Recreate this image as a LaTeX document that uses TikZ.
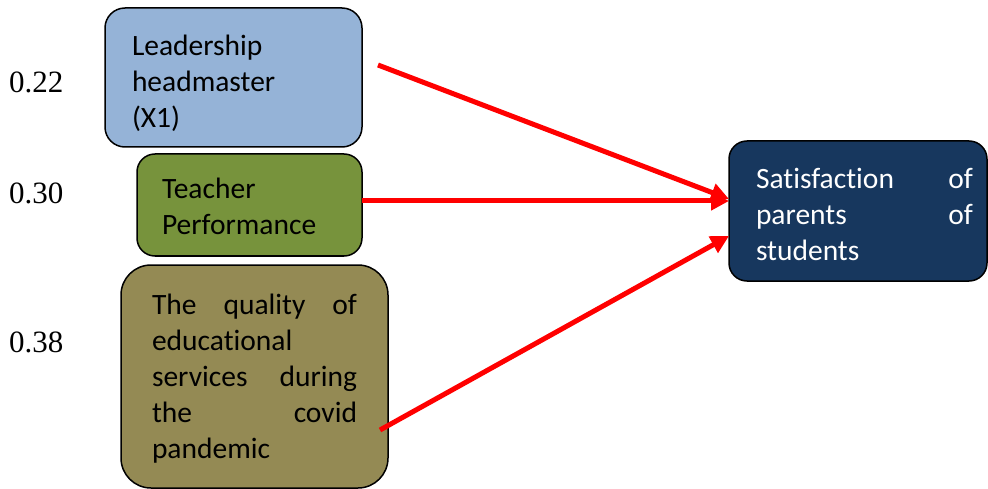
\documentclass[tikz,border=0pt]{standalone}
\usepackage{fontspec}
\setmainfont{Carlito}[Ligatures={NoCommon}]
\newfontfamily\numfont{Liberation Serif}
\usetikzlibrary{arrows.meta}
\definecolor{cLead}{HTML}{95B3D7}
\definecolor{cTeach}{HTML}{77933C}
\definecolor{cQual}{HTML}{948A54}
\definecolor{cSat}{HTML}{17375E}
\definecolor{cArrow}{HTML}{FF0000}
\tikzset{
  box/.style={draw=black, line width=1.5pt, inner sep=0pt, align=left,
    font=\fontsize{29.5}{36}\selectfont},
  numlabel/.style={anchor=west, inner sep=0pt, font=\numfont\fontsize{31}{36}\selectfont},
  link/.style={draw=cArrow, line width=5pt, -{Triangle[length=18pt,width=18pt]}}
}
\begin{document}
\begin{tikzpicture}[x=1pt,y=-1pt]
\clip (0,0) rectangle (988,489);
\node[box, fill=cLead, rounded corners=20pt, text width=257pt, minimum height=139pt] (L) at (233.5,77.5)
  {\hspace*{27pt}\rule{0pt}{33pt}Leadership\\\hspace*{27pt}headmaster\\\hspace*{27pt}(X1)};
\node[box, fill=cTeach, rounded corners=18pt, text width=225pt, minimum height=102pt] (T) at (249.5,205)
  {\hspace*{25pt}\rule{0pt}{24pt}Teacher\\\hspace*{25pt}Performance};
\node[box, fill=cQual, rounded corners=30pt, text width=267pt, minimum height=223pt] (Q) at (254.5,376.5)
  {\hspace*{31pt}\rule{0pt}{25pt}\hbox to 205pt{The\hfill quality\hfill of}\\
   \hspace*{31pt}educational\\
   \hspace*{31pt}\hbox to 205pt{services\hfill during}\\
   \hspace*{31pt}\hbox to 205pt{the\hfill covid}\\
   \hspace*{31pt}pandemic};
\node[box, fill=cSat, text=white, rounded corners=18pt, text width=258pt, minimum height=140pt] (S) at (858,211)
  {\hspace*{27pt}\rule{0pt}{28pt}\hbox to 217pt{Satisfaction\hfill of}\\
   \hspace*{27pt}\hbox to 217pt{parents\hfill of}\\
   \hspace*{27pt}students};
\node[numlabel] (n1) at (9,82) {0.22};
\node[numlabel] (n2) at (9,193) {0.30};
\node[numlabel] (n3) at (9,342) {0.38};
\coordinate (a1) at (378,65);
\coordinate (a2) at (362,201);
\coordinate (a3) at (380,430);
\coordinate (s1) at (729,199);
\coordinate (s2) at (729,201);
\coordinate (s3) at (729,236);
\draw[link] (a1) -- (s1);
\draw[link] (a2) -- (s2);
\draw[link] (a3) -- (s3);
\end{tikzpicture}
\end{document}
